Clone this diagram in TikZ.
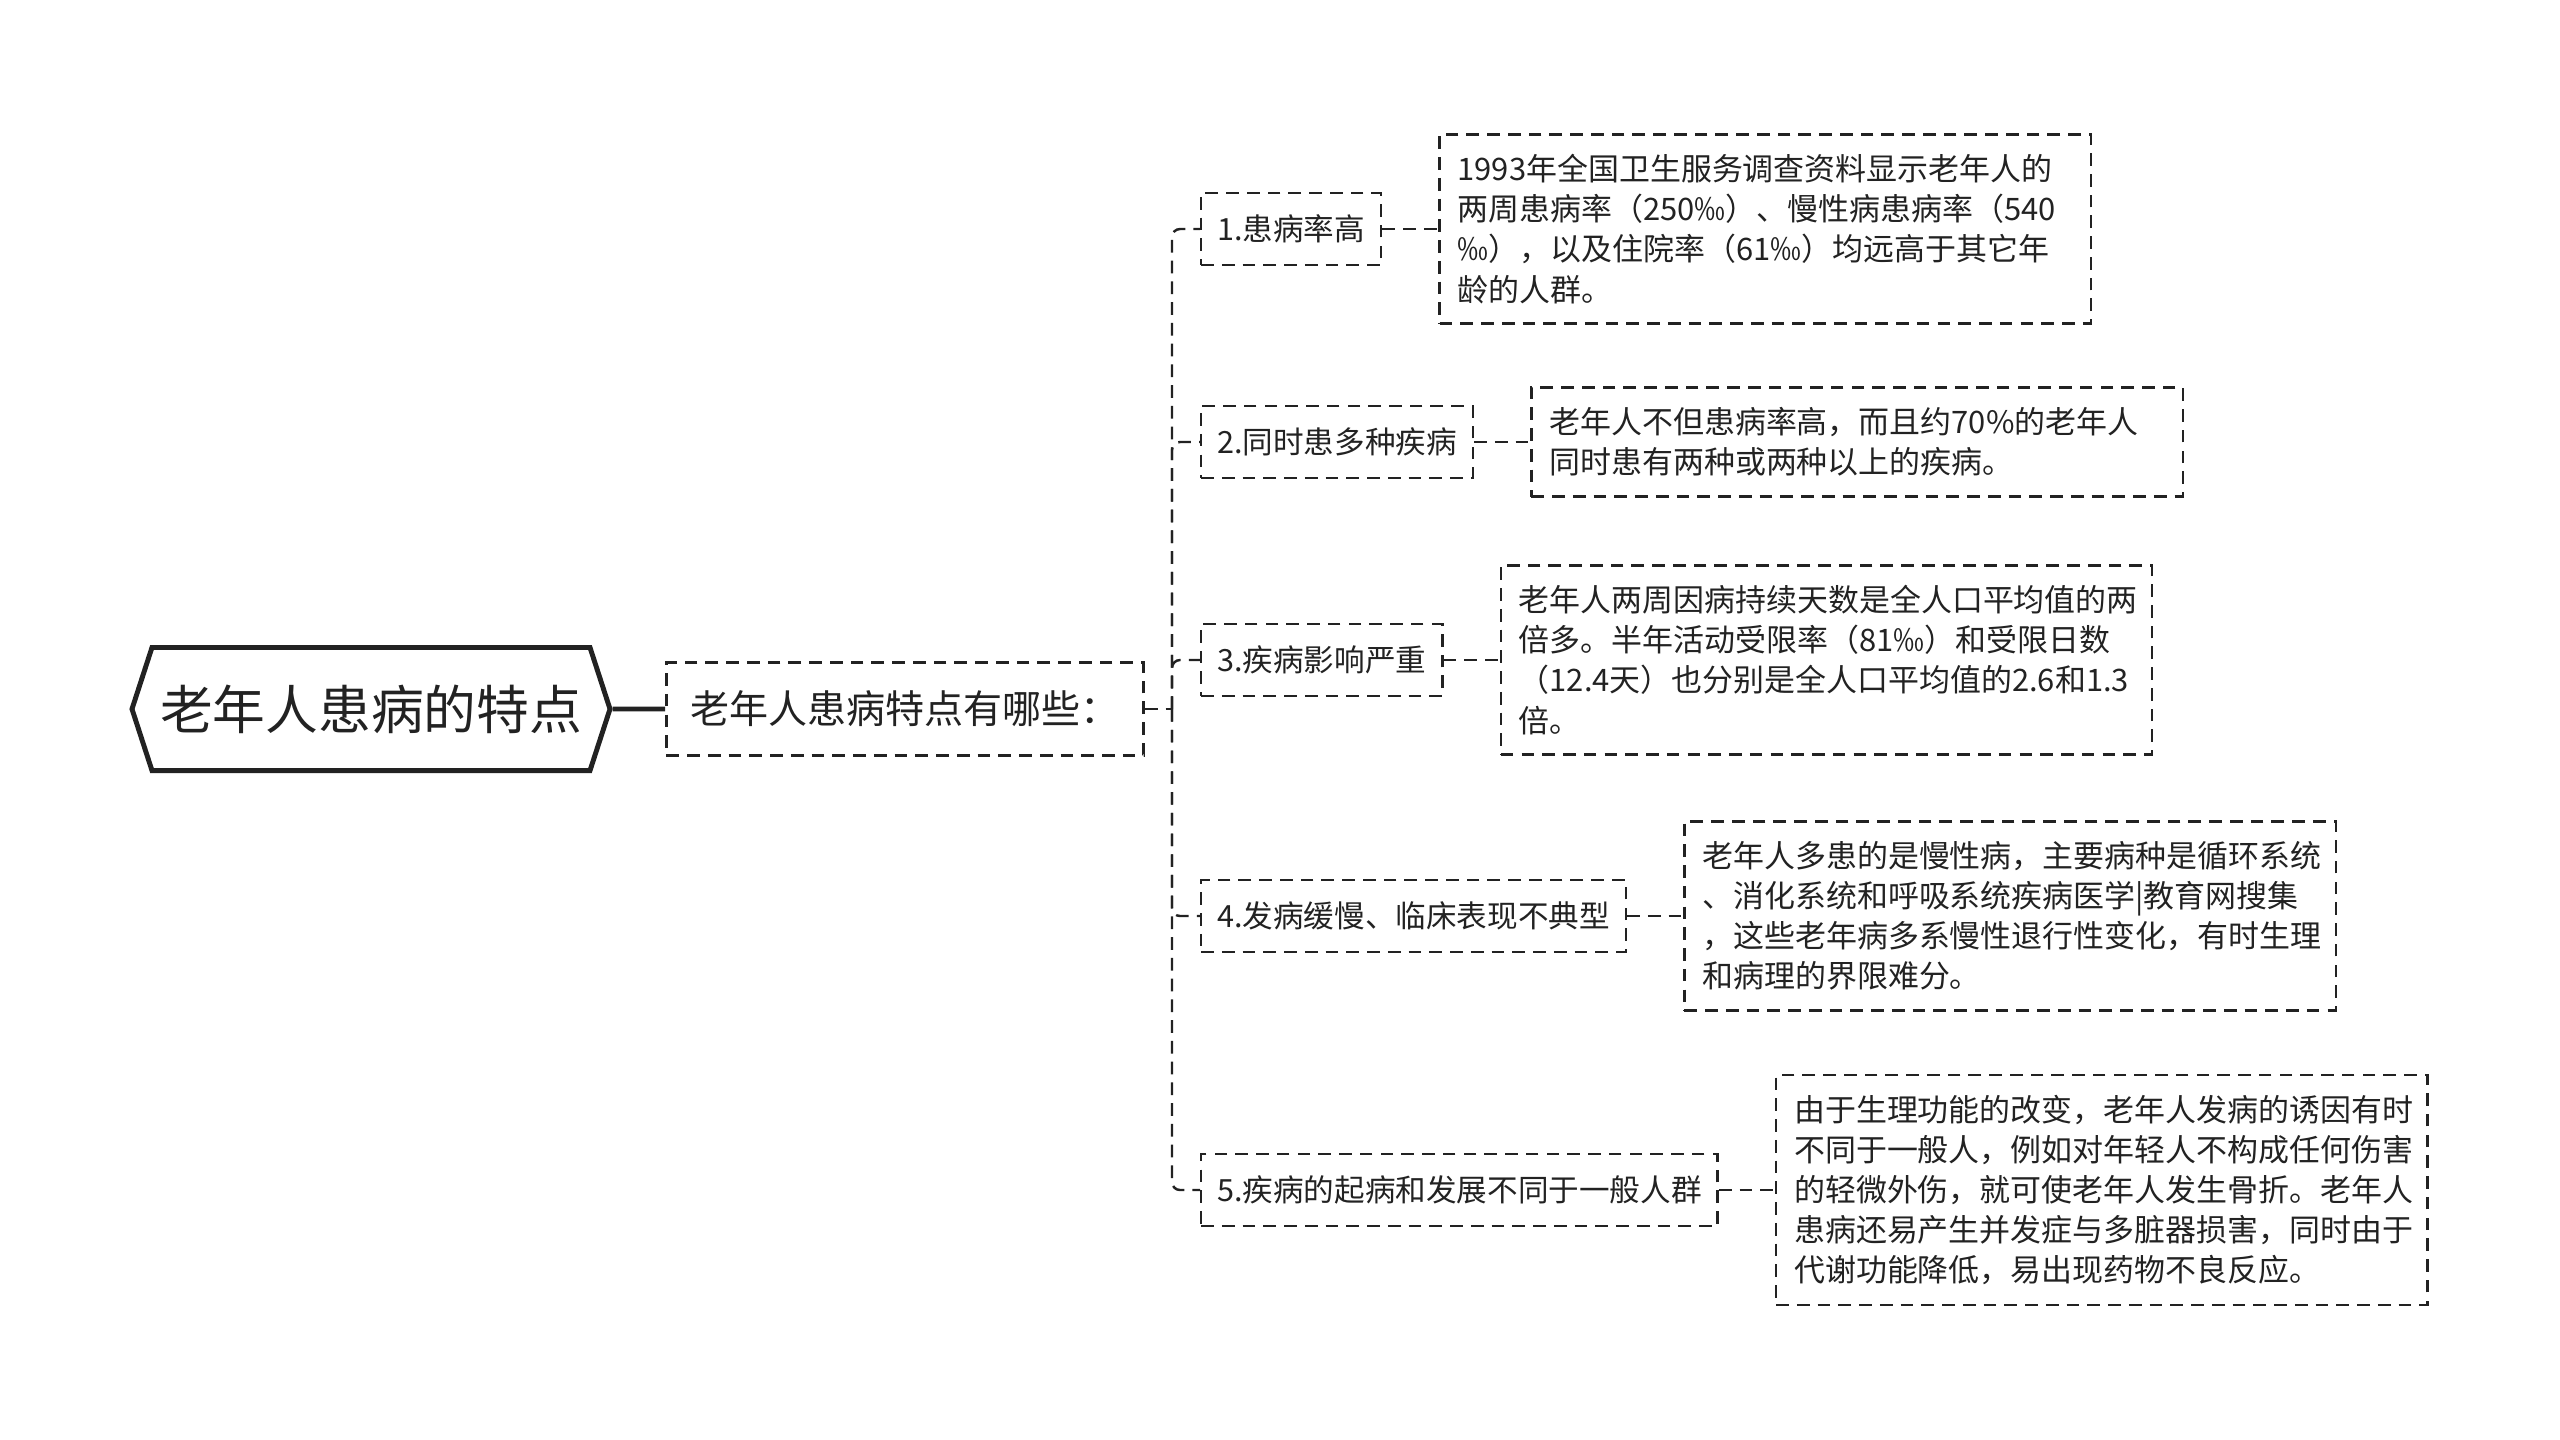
\documentclass[tikz,border=0pt]{standalone}
\usepackage{fontspec}
\setmainfont{Noto Sans CJK SC}
\usetikzlibrary{positioning,shapes.symbols}
\definecolor{ink}{HTML}{222222}

\begin{document}
\begin{tikzpicture}[x=0.01cm,y=-0.01cm,
  every node/.style={text=ink},
  link/.style={draw=ink, line width=0.7pt, dash pattern=on 3.6pt off 2.3pt},
  dashbox/.style={draw=ink, line width=0.7pt, dash pattern=on 3.6pt off 2.3pt},
  rootbox/.style={signal, signal to=west and east, signal pointer angle=144, draw=ink, line width=1.4pt,
    inner xsep=0.08cm, minimum height=1.23cm, font=\fontsize{15}{18}\selectfont},
  topicbox/.style={dashbox, minimum width=4.77cm, minimum height=0.93cm, font=\fontsize{11.1}{13}\selectfont},
  branchbox/.style={dashbox, anchor=west, minimum height=0.72cm, inner xsep=0.16cm, font=\fontsize{8.7}{11.4}\selectfont},
  leafbox/.style={dashbox, text width=6.15cm, inner xsep=0.18cm, inner ysep=0.2cm, align=left,
    font=\fontsize{8.8}{11.4}\selectfont}]
\useasboundingbox (0,0) rectangle (2560,1439);

% root and topic
\node[rootbox] (root) at (371,709) {老年人患病的特点};
\node[topicbox] (topic) at (905,709) {老年人患病特点有哪些：};

% branches
\node[branchbox] (b1) at (1200,229) {1.患病率高};
\node[branchbox] (b2) at (1200,442) {2.同时患多种疾病};
\node[branchbox] (b3) at (1200,660) {3.疾病影响严重};
\node[branchbox] (b4) at (1200,916) {4.发病缓慢、临床表现不典型};
\node[branchbox] (b5) at (1200,1190) {5.疾病的起病和发展不同于一般人群};

% details
\node[leafbox, right=0.56cm of b1] (d1) {1993年全国卫生服务调查资料显示老年人的\\
  两周患病率（250‰）、慢性病患病率（540\\
  ‰），以及住院率（61‰）均远高于其它年\\
  龄的人群。};
\node[leafbox, right=0.56cm of b2] (d2) {老年人不但患病率高，而且约70\%的老年人\\
  同时患有两种或两种以上的疾病。};
\node[leafbox, right=0.56cm of b3] (d3) {老年人两周因病持续天数是全人口平均值的两\\
  倍多。半年活动受限率（81‰）和受限日数\\
  （12.4天）也分别是全人口平均值的2.6和1.3\\
  倍。};
\node[leafbox, right=0.56cm of b4] (d4) {老年人多患的是慢性病，主要病种是循环系统\\
  、消化系统和呼吸系统疾病医学|教育网搜集\\
  ，这些老年病多系慢性退行性变化，有时生理\\
  和病理的界限难分。};
\node[leafbox, right=0.56cm of b5] (d5) {由于生理功能的改变，老年人发病的诱因有时\\
  不同于一般人，例如对年轻人不构成任何伤害\\
  的轻微外伤，就可使老年人发生骨折。老年人\\
  患病还易产生并发症与多脏器损害，同时由于\\
  代谢功能降低，易出现药物不良反应。};

% connectors
\draw[draw=ink, line width=1.4pt] (root) -- (topic);
\coordinate (fork) at (1172,709);
\draw[link] (topic.east) -- (fork);
\foreach \i in {1,...,5} {
  \draw[link, rounded corners=0.08cm] (fork) |- (b\i.west);
  \draw[link] (b\i.east) -- (d\i.west);
}
\end{tikzpicture}
\end{document}
